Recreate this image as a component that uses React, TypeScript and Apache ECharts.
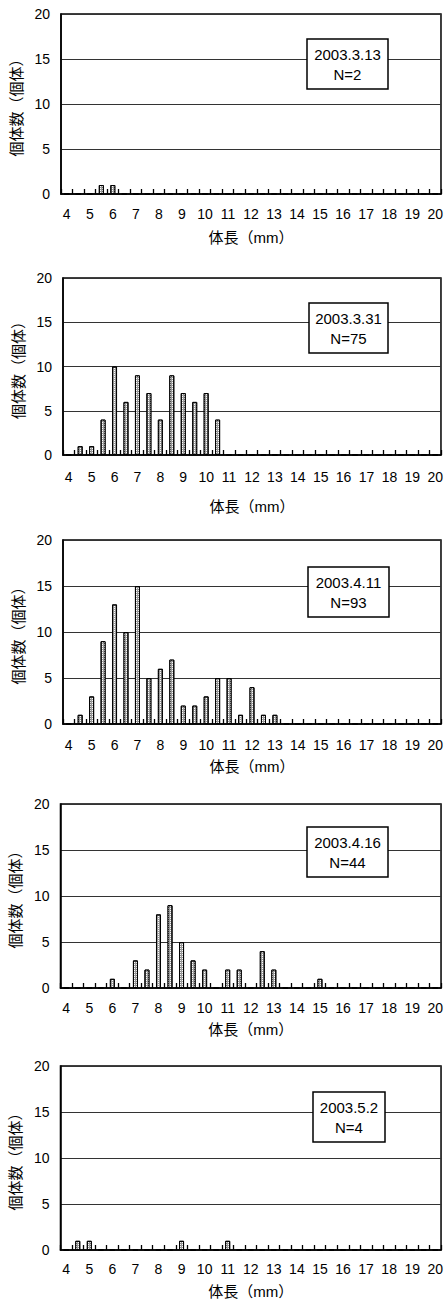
import React, { useEffect, useRef } from "react";
import * as echarts from "echarts";

// Body-length bins (mm)
const lengthBins = [
  "4", "4.5", "5", "5.5", "6", "6.5", "7", "7.5", "8", "8.5", "9", "9.5",
  "10", "10.5", "11", "11.5", "12", "12.5", "13", "13.5", "14", "14.5",
  "15", "15.5", "16", "16.5", "17", "17.5", "18", "18.5", "19", "19.5", "20",
];

// Sampling dates and sample sizes
const sampleDates = ["2003.3.13", "2003.3.31", "2003.4.11", "2003.4.16", "2003.5.2"];
const sampleN = [2, 75, 93, 44, 4];

// Counts per bin for each date
const counts0313 = [0, 0, 0, 1, 1, 0, 0, 0, 0, 0, 0, 0, 0, 0, 0, 0, 0, 0, 0, 0, 0, 0, 0, 0, 0, 0, 0, 0, 0, 0, 0, 0, 0];
const counts0331 = [0, 1, 1, 4, 10, 6, 9, 7, 4, 9, 7, 6, 7, 4, 0, 0, 0, 0, 0, 0, 0, 0, 0, 0, 0, 0, 0, 0, 0, 0, 0, 0, 0];
const counts0411 = [0, 1, 3, 9, 13, 10, 15, 5, 6, 7, 2, 2, 3, 5, 5, 1, 4, 1, 1, 0, 0, 0, 0, 0, 0, 0, 0, 0, 0, 0, 0, 0, 0];
const counts0416 = [0, 0, 0, 0, 1, 0, 3, 2, 8, 9, 5, 3, 2, 0, 2, 2, 0, 4, 2, 0, 0, 0, 1, 0, 0, 0, 0, 0, 0, 0, 0, 0, 0];
const counts0502 = [0, 1, 1, 0, 0, 0, 0, 0, 0, 0, 1, 0, 0, 0, 1, 0, 0, 0, 0, 0, 0, 0, 0, 0, 0, 0, 0, 0, 0, 0, 0, 0, 0];
const allCounts = [counts0313, counts0331, counts0411, counts0416, counts0502];

// Y ticks
const yMin = 0;
const yMax = 20;
const yStep = 5;

const xName = "体長（mm）";
const yName = "個体数（個体）";

// layout (px)
const grids = [
  { left: 61, top: 14, width: 381, height: 180, nameGap: 36, labelGap: 13 },
  { left: 63, top: 278, width: 380, height: 177, nameGap: 44, labelGap: 15 },
  { left: 63, top: 540, width: 381, height: 184, nameGap: 35, labelGap: 14 },
  { left: 59, top: 804, width: 384, height: 184, nameGap: 34, labelGap: 13 },
  { left: 58, top: 1066, width: 384, height: 184, nameGap: 34, labelGap: 12 },
];
const boxes = [
  { x: 307, y: 39, w: 81, h: 50 },
  { x: 309, y: 303, w: 79, h: 50 },
  { x: 308, y: 567, w: 81, h: 50 },
  { x: 307, y: 827, w: 81, h: 50 },
  { x: 313, y: 1092, w: 72, h: 50 },
];

const FONT = "'Liberation Sans', 'Noto Sans CJK JP', Arial, sans-serif";

export default function App() {
  const ref = useRef<HTMLDivElement>(null);
  useEffect(() => {
    if (!ref.current) return;
    const chart = echarts.init(ref.current, undefined, { renderer: "svg" });
    const option: any = {
      animation: false,
      backgroundColor: "#fff",
      textStyle: { fontFamily: FONT, color: "#000" },
      grid: grids.map((g) => ({
        left: g.left,
        top: g.top,
        width: g.width,
        height: g.height,
        show: true,
        borderColor: "#000",
        borderWidth: 1.5,
        backgroundColor: "transparent",
        containLabel: false,
      })),
      xAxis: grids.map((g, i) => ({
        type: "category",
        gridIndex: i,
        data: lengthBins,
        boundaryGap: true,
        name: xName,
        nameLocation: "middle",
        nameGap: g.nameGap,
        nameTextStyle: { fontSize: 15, color: "#000", fontFamily: FONT },
        axisLine: { show: true, lineStyle: { color: "#000", width: 1.5 } },
        axisTick: {
          show: true,
          inside: true,
          length: 5,
          interval: 0,
          alignWithLabel: false,
          lineStyle: { color: "#000", width: 1.3 },
        },
        axisLabel: {
          interval: 1,
          margin: g.labelGap,
          fontSize: 14,
          color: "#000",
          fontFamily: FONT,
        },
        splitLine: { show: false },
      })),
      yAxis: grids.map((g, i) => ({
        type: "value",
        gridIndex: i,
        min: yMin,
        max: yMax,
        interval: yStep,
        name: yName,
        nameLocation: "middle",
        nameGap: 32,
        nameRotate: 90,
        nameTextStyle: { fontSize: 15, color: "#000", fontFamily: FONT },
        axisLine: { show: true, lineStyle: { color: "#000", width: 1.5 } },
        axisTick: { show: false },
        axisLabel: { margin: 11, fontSize: 14, color: "#000", fontFamily: FONT },
        splitLine: { show: true, lineStyle: { color: "#333", width: 1 } },
      })),
      series: allCounts.map((d, i) => ({
        type: "bar",
        xAxisIndex: i,
        yAxisIndex: i,
        data: d,
        barWidth: 5,
        z: 3,
        itemStyle: {
          color: "#9a9a9a",
          borderColor: "#000",
          borderWidth: 1,
          decal: {
            symbol: "rect",
            symbolSize: 1,
            color: "#ffffff",
            dashArrayX: [1, 1],
            dashArrayY: [1, 1],
            rotation: 0,
          },
        },
      })),
      graphic: boxes.map((b, i) => ({
        type: "group",
        children: [
          {
            type: "rect",
            shape: { x: b.x, y: b.y, width: b.w, height: b.h },
            style: { fill: "#fff", stroke: "#000", lineWidth: 1.5 },
            z: 100,
          },
          {
            type: "text",
            x: b.x + b.w / 2,
            y: b.y + b.h / 2,
            z: 101,
            style: {
              text: sampleDates[i] + "\nN=" + sampleN[i],
              align: "center",
              verticalAlign: "middle",
              fontSize: 15,
              lineHeight: 20,
              fill: "#000",
              fontFamily: FONT,
            },
          },
        ],
      })),
    };
    chart.setOption(option);
    return () => chart.dispose();
  }, []);
  return (
    <div
      ref={ref}
      style={{ position: "absolute", left: 0, top: 0, width: 446, height: 1302, background: "#fff" }}
    />
  );
}
